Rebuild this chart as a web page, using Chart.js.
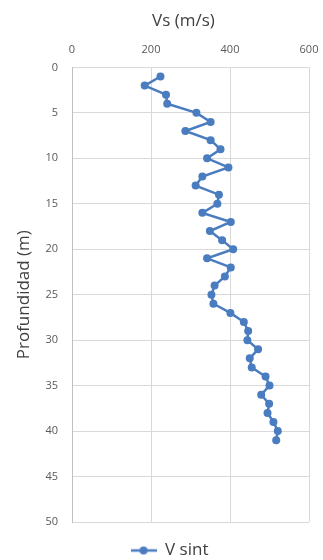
<!DOCTYPE html>
<html>
<head>
<meta charset="utf-8">
<script src="https://cdn.jsdelivr.net/npm/chart.js@4/dist/chart.umd.min.js"></script>
<style>
  html, body { margin: 0; padding: 0; background: #fff; }
  #wrap { width: 323px; height: 560px; position: relative; }
</style>
</head>
<body>
<div id="wrap"><canvas id="vsChart"></canvas></div>
<script>
// Depth of each point (m)
const depths = [1, 2, 3, 4, 5, 6, 7, 8, 9, 10,
                11, 12, 13, 14, 15, 16, 17, 18, 19, 20,
                21, 22, 23, 24, 25, 26, 27, 28, 29, 30,
                31, 32, 33, 34, 35, 36, 37, 38, 39, 40, 41];
// Shear wave velocity (m/s)
const vsValues = [224, 184, 238, 241, 315, 351, 287, 351, 376, 342,
                  396, 330, 313, 372, 368, 330, 402, 349, 380, 408,
                  342, 402, 387, 361, 353, 358, 401, 435, 446, 444,
                  471, 450, 455, 490, 500, 479, 499, 495, 510, 521, 517];
const xTicks = [0, 200, 400, 600];
const yTicks = [0, 5, 10, 15, 20, 25, 30, 35, 40, 45, 50];

const blue = '#4a7cc0';
const gridGray = '#d9d9d9';
const labelGray = '#595959';
const fontFamily = "'Open Sans', 'Noto Sans', sans-serif";

// legend marker: short line with a dot in the middle
const marker = document.createElement('canvas');
marker.width = 26;
marker.height = 10;
const mctx = marker.getContext('2d');
mctx.strokeStyle = blue;
mctx.lineWidth = 2.5;
mctx.beginPath();
mctx.moveTo(0, 5);
mctx.lineTo(26, 5);
mctx.stroke();
mctx.fillStyle = blue;
mctx.beginPath();
mctx.arc(13, 5, 4, 0, Math.PI * 2);
mctx.fill();

// nudge title and legend sideways, like the Excel original
const nudgeBoxes = {
    id: 'nudgeBoxes',
    afterLayout(chart) {
        if (chart.titleBlock) {
            chart.titleBlock.left -= 7;
            chart.titleBlock.right -= 7;
        }
        if (chart.legend) {
            chart.legend.left += 15;
            chart.legend.right += 15;
        }
    }
};

const points = depths.map((d, i) => ({ x: vsValues[i], y: d }));

new Chart(document.getElementById('vsChart'), {
    type: 'scatter',
    data: {
        datasets: [{
            label: 'V sint',
            data: points,
            showLine: true,
            borderColor: blue,
            backgroundColor: blue,
            borderWidth: 2.5,
            pointRadius: 4,
            pointBackgroundColor: blue,
            pointBorderColor: blue,
            pointBorderWidth: 0
        }]
    },
    options: {
        responsive: true,
        maintainAspectRatio: false,
        animation: false,
        layout: {
            padding: { left: 0, right: 14, top: 0, bottom: -9 }
        },
        plugins: {
            title: {
                display: true,
                text: 'Vs (m/s)',
                fullSize: false,
                color: '#404040',
                font: { family: fontFamily, size: 17, weight: 'normal' },
                padding: { top: 11, bottom: 0 }
            },
            legend: {
                position: 'bottom',
                labels: {
                    usePointStyle: true,
                    pointStyle: marker,
                    pointStyleWidth: 26,
                    color: '#404040',
                    padding: 20,
                    font: { family: fontFamily, size: 17 }
                }
            },
            tooltip: { enabled: false }
        },
        scales: {
            x: {
                type: 'linear',
                position: 'top',
                min: 0,
                max: 600,
                afterBuildTicks: function(scale) {
                    scale.ticks = xTicks.map(v => ({ value: v }));
                },
                afterFit: function(scale) {
                    scale.height = 36;
                    scale.paddingLeft = 0;
                    scale.paddingRight = 0;
                },
                ticks: {
                    color: labelGray,
                    padding: 11,
                    font: { family: fontFamily, size: 11 }
                },
                grid: { color: gridGray, drawTicks: false, lineWidth: 1 },
                border: { color: gridGray }
            },
            y: {
                type: 'linear',
                reverse: true,
                min: 0,
                max: 50,
                afterBuildTicks: function(scale) {
                    scale.ticks = yTicks.map(v => ({ value: v }));
                },
                afterFit: function(scale) {
                    scale.width = 72;
                    scale.paddingTop = 0;
                    scale.paddingBottom = 0;
                },
                title: {
                    display: true,
                    text: 'Profundidad (m)',
                    color: '#404040',
                    font: { family: fontFamily, size: 17 },
                    padding: { top: 14, bottom: 0 }
                },
                ticks: {
                    color: labelGray,
                    padding: 14,
                    font: { family: fontFamily, size: 11 }
                },
                grid: { color: gridGray, drawTicks: false, lineWidth: 1 },
                border: { color: '#bfbfbf' }
            }
        }
    },
    plugins: [nudgeBoxes]
});
</script>
</body>
</html>
